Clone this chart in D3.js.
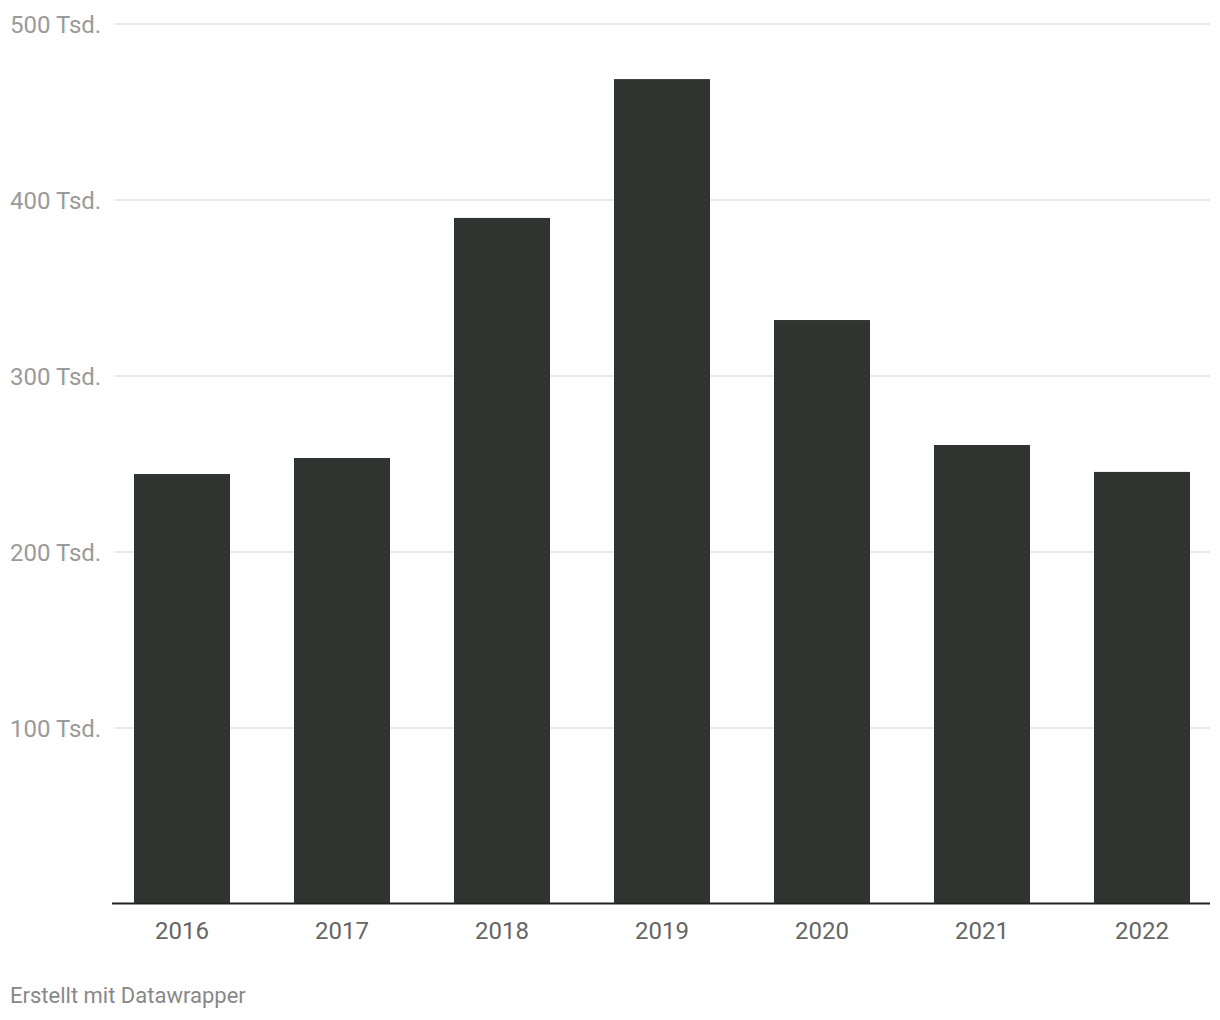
<!DOCTYPE html>
<html><head><meta charset="utf-8">
<script src="https://cdn.jsdelivr.net/npm/d3@7"></script>
<style>body{margin:0;background:#fff;} text{font-family:Roboto,"Noto Sans",sans-serif;}</style>
</head><body>
<svg id="c" width="1220" height="1020"></svg>
<script>
const years = ["2016","2017","2018","2019","2020","2021","2022"];
const values = [244300, 253400, 389800, 468700, 331800, 260800, 245500];
const yTicks = [100000, 200000, 300000, 400000, 500000];
const yTickLabels = ["100 Tsd.","200 Tsd.","300 Tsd.","400 Tsd.","500 Tsd."];

(function(){
const svg = d3.select("#c");
const mLeft = 114, mRight = 1210, mTop = 24, mBottom = 904;
const x = d3.scaleBand().domain(years).range([mLeft, mRight]).paddingInner(0.4).paddingOuter(0.125);
const y = d3.scaleLinear().domain([0, 500000]).range([mBottom, mTop]);

svg.append("g").selectAll("line").data(yTicks).join("line")
  .attr("x1", mLeft).attr("x2", mRight)
  .attr("y1", d => y(d)).attr("y2", d => y(d))
  .attr("stroke", "#e3e3e3").attr("stroke-width", 1.5);

svg.append("g").selectAll("text").data(yTicks).join("text")
  .attr("x", 10).attr("y", d => y(d) + 8.5)
  .attr("font-size", 24).attr("fill", "#9a9a9a")
  .text((d, i) => yTickLabels[i]);

svg.append("g").selectAll("rect").data(values).join("rect")
  .attr("x", (d, i) => x(years[i])).attr("width", x.bandwidth())
  .attr("y", d => y(d)).attr("height", d => mBottom - y(d))
  .attr("fill", "#303430");

svg.append("line").attr("x1", 112).attr("x2", mRight).attr("y1", mBottom - 0.5).attr("y2", mBottom - 0.5)
  .attr("stroke", "#222").attr("stroke-width", 2);

svg.append("g").selectAll("text").data(years).join("text")
  .attr("x", d => x(d) + x.bandwidth() / 2).attr("y", 939)
  .attr("text-anchor", "middle").attr("font-size", 24).attr("fill", "#666")
  .text(d => d);

svg.append("text").attr("x", 10).attr("y", 1003).attr("font-size", 22).attr("fill", "#888")
  .text("Erstellt mit Datawrapper");
})();
</script>
</body></html>
